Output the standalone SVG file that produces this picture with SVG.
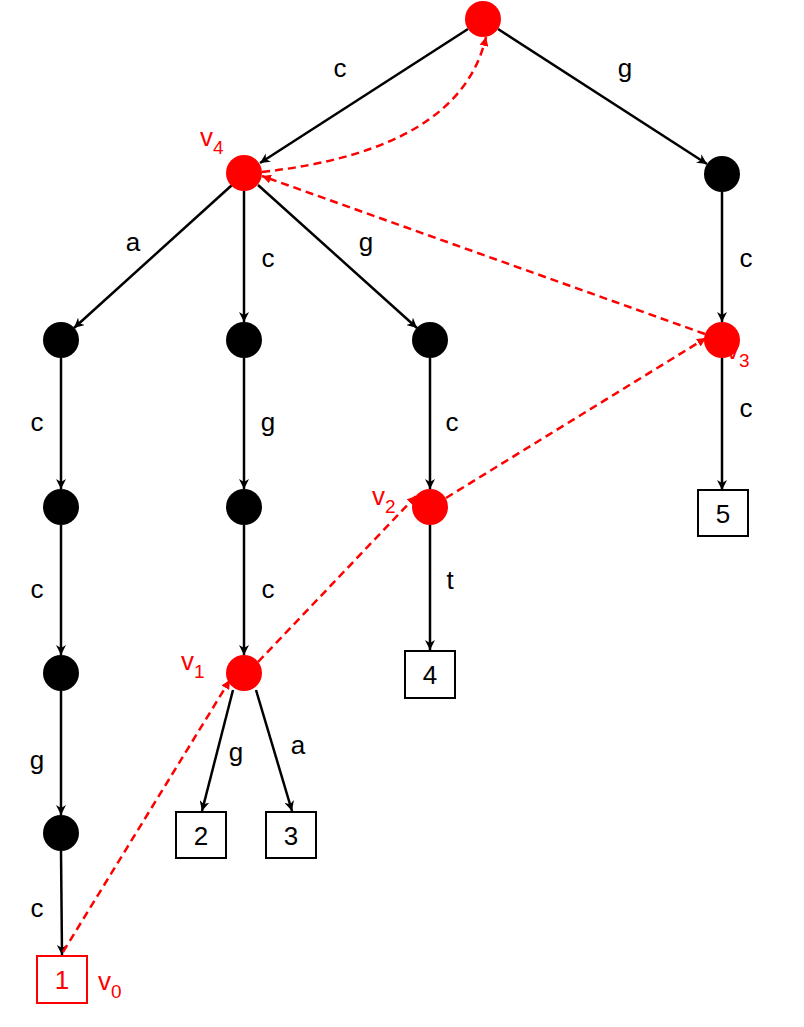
<svg xmlns="http://www.w3.org/2000/svg" width="804" height="1027" viewBox="0 0 804 1027">
<defs>
<marker id="ab" viewBox="0 0 10 10" refX="10" refY="5" markerWidth="10" markerHeight="10" markerUnits="userSpaceOnUse" orient="auto"><path d="M0,0 L10,5 L0,10 L3,5 z" fill="#000"/></marker>
<marker id="ar" viewBox="0 0 10 10" refX="10" refY="5" markerWidth="9" markerHeight="9" markerUnits="userSpaceOnUse" orient="auto"><path d="M0,0 L10,5 L0,10 z" fill="#f00"/></marker>
</defs>
<style>
.e{stroke:#000;stroke-width:2.5;fill:none;marker-end:url(#ab)}
.d{stroke:#f00;stroke-width:2.5;fill:none;stroke-dasharray:8,5;marker-end:url(#ar)}
.b{fill:#000}.r{fill:#f00}
.box{fill:#fff;stroke:#000;stroke-width:2}
text{font-family:"Liberation Sans",Arial,sans-serif;font-size:26px}
.rt{fill:#f00}
.n{text-anchor:middle}
</style>
<rect width="804" height="1027" fill="#fff"/>
<g id="connectors">
<line class="e" x1="468" y1="29" x2="260" y2="163"/>
<line class="e" x1="498" y1="29" x2="707" y2="164"/>
<line class="e" x1="232" y1="185" x2="74" y2="328"/>
<line class="e" x1="244" y1="191" x2="244" y2="322"/>
<line class="e" x1="258" y1="185" x2="417" y2="328"/>
<line class="e" x1="61" y1="358" x2="61" y2="489"/>
<line class="e" x1="61" y1="525" x2="61" y2="655"/>
<line class="e" x1="61" y1="691" x2="61" y2="815"/>
<line class="e" x1="61" y1="851" x2="62" y2="955"/>
<line class="e" x1="244" y1="358" x2="244" y2="489"/>
<line class="e" x1="244" y1="525" x2="244" y2="655"/>
<line class="e" x1="430" y1="358" x2="430" y2="489"/>
<line class="e" x1="430" y1="525" x2="430" y2="650"/>
<line class="e" x1="722" y1="192" x2="722" y2="322"/>
<line class="e" x1="722" y1="358" x2="722" y2="490"/>
<line class="e" x1="233" y1="690" x2="202" y2="811"/>
<line class="e" x1="256" y1="690" x2="292" y2="811"/>
<line class="d" x1="63" y1="952" x2="230" y2="680"/>
<line class="d" x1="258" y1="662" x2="416" y2="496"/>
<line class="d" x1="446" y1="498" x2="706" y2="338"/>
<line class="d" x1="705" y1="334" x2="262" y2="176"/>
<path class="d" d="M262,172 Q460,150 486,37"/>
</g>
<g id="labels">
<text class="n" x="340" y="77">c</text>
<text class="n" x="625" y="77">g</text>
<text class="n" x="133" y="251">a</text>
<text class="n" x="268" y="267">c</text>
<text class="n" x="366" y="251">g</text>
<text class="n" x="746" y="267">c</text>
<text class="n" x="37" y="431">c</text>
<text class="n" x="268" y="431">g</text>
<text class="n" x="452" y="431">c</text>
<text class="n" x="746" y="417">c</text>
<text class="n" x="37" y="598">c</text>
<text class="n" x="268" y="598">c</text>
<text class="n" x="450" y="589">t</text>
<text class="n" x="37" y="769">g</text>
<text class="n" x="236" y="761">g</text>
<text class="n" x="298" y="754">a</text>
<text class="n" x="37" y="917">c</text>
<text class="rt" x="200" y="146">v<tspan font-size="19" dy="8">4</tspan></text>
<text class="rt" x="726" y="359">v<tspan font-size="19" dy="8">3</tspan></text>
<text class="rt" x="372" y="505">v<tspan font-size="19" dy="8">2</tspan></text>
<text class="rt" x="181" y="670">v<tspan font-size="19" dy="8">1</tspan></text>
<text class="rt" x="98" y="990">v<tspan font-size="19" dy="8">0</tspan></text>
</g>
<g id="root"><circle class="r" cx="483" cy="19" r="18"/></g>
<g id="v4"><circle class="r" cx="244" cy="173" r="18"/></g>
<g id="ng"><circle class="b" cx="722" cy="174" r="18"/></g>
<g id="v3"><circle class="r" cx="722" cy="340" r="18"/></g>
<g id="na"><circle class="b" cx="61" cy="340" r="18"/></g>
<g id="nc"><circle class="b" cx="244" cy="340" r="18"/></g>
<g id="ng2"><circle class="b" cx="430" cy="340" r="18"/></g>
<g id="nac"><circle class="b" cx="61" cy="507" r="18"/></g>
<g id="ncg"><circle class="b" cx="244" cy="507" r="18"/></g>
<g id="v2"><circle class="r" cx="430" cy="507" r="18"/></g>
<g id="nacc"><circle class="b" cx="61" cy="673" r="18"/></g>
<g id="v1"><circle class="r" cx="244" cy="673" r="18"/></g>
<g id="naccg"><circle class="b" cx="61" cy="833" r="18"/></g>
<g id="leaf1"><rect x="37" y="956" width="50" height="47" fill="#fff" stroke="#f00" stroke-width="2"/><text class="n rt" x="62" y="989">1</text></g>
<g id="leaf2"><rect class="box" x="176" y="812" width="50" height="46"/><text class="n" x="201" y="845">2</text></g>
<g id="leaf3"><rect class="box" x="266" y="812" width="50" height="46"/><text class="n" x="291" y="845">3</text></g>
<g id="leaf4"><rect class="box" x="405" y="651" width="50" height="47"/><text class="n" x="430" y="684">4</text></g>
<g id="leaf5"><rect class="box" x="698" y="490" width="50" height="46"/><text class="n" x="723" y="523">5</text></g>
</svg>
